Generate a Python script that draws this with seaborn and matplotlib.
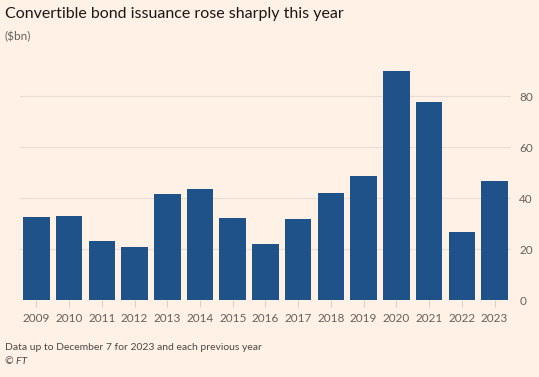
import matplotlib
matplotlib.use("Agg")
import matplotlib.pyplot as plt
import seaborn as sns
import pandas as pd

years = ["2009", "2010", "2011", "2012", "2013", "2014", "2015", "2016",
         "2017", "2018", "2019", "2020", "2021", "2022", "2023"]
issuance = [32.8, 33.1, 23.3, 20.9, 41.6, 43.8, 32.4, 22.1,
            31.9, 42.1, 48.9, 89.8, 77.6, 26.7, 46.8]
yticks = [0, 20, 40, 60, 80]

title = "Convertible bond issuance rose sharply this year"
subtitle = "($bn)"
note = "Data up to December 7 for 2023 and each previous year"
source = "© FT"

bg = "#FFF1E5"
bar_color = "#1E5288"
grid_color = "#E9DED3"
tick_color = "#66605C"

sns.set_theme(style="white")
plt.rcParams['font.family'] = ['Lato', 'DejaVu Sans']

df = pd.DataFrame({"year": years, "value": issuance})

fig = plt.figure(figsize=(5.39, 3.77), dpi=100, facecolor=bg)
ax = fig.add_axes([0.037, 0.2042, 0.911, 0.6313])
ax.set_facecolor(bg)

sns.barplot(data=df, x="year", y="value", color=bar_color, width=0.81,
            saturation=1, ax=ax, zorder=3, linewidth=0, edgecolor=bar_color)

ax.set_ylim(0, 93.5)
ax.set_xlim(-0.5, len(years) - 0.5)
ax.set_yticks(yticks)
ax.yaxis.tick_right()
ax.tick_params(axis="y", length=0, labelsize=8.5, labelcolor=tick_color, pad=6)
ax.tick_params(axis="x", length=5, width=0.8, color="#D9CFC6", direction="out",
               labelsize=8.5, labelcolor=tick_color, pad=4, bottom=True)
for t in ax.get_yticklabels():
    t.set_horizontalalignment("left")
ax.grid(axis="y", color=grid_color, linewidth=0.8, zorder=0)
ax.grid(axis="x", visible=False)
ax.set_xlabel("")
ax.set_ylabel("")
for s in ax.spines.values():
    s.set_visible(False)

fig.text(0.009, 0.962, title, fontsize=11.5, color="#1A1817", va="center", ha="left")
fig.text(0.009, 0.902, subtitle, fontsize=8.5, color=tick_color, va="center", ha="left")
fig.text(0.009, 0.077, note, fontsize=7.5, color="#4D4845", va="center", ha="left")
fig.text(0.009, 0.040, source, fontsize=7.5, color="#4D4845", va="center", ha="left",
         style="italic")

fig.savefig("out.png", dpi=100, facecolor=bg)
